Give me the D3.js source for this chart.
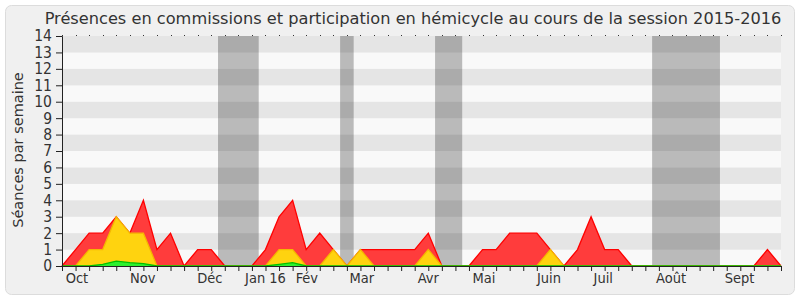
<!DOCTYPE html>
<html>
<head>
<meta charset="utf-8">
<script src="https://cdn.jsdelivr.net/npm/d3@7"></script>
<style>
  body { margin: 0; background: #fff; }
  text { font-family: "DejaVu Sans", Verdana, sans-serif; fill: #333; }
  .cond { font-family: "DejaVu Sans Condensed", "DejaVu Sans", sans-serif; font-stretch: condensed; }
</style>
</head>
<body>
<script>
const w = 800;
const h = 300;

// one value per week, session 2015-2016 (54 weeks)
const presence = [0,1,2,2,3,2,4,1,2,0,1,1,0,0,0,1,3,4,1,2,1,0,1,1,1,1,1,2,0,0,0,1,1,2,2,2,1,0,1,3,1,1,0,0,0,0,0,0,0,0,0,0,1,0];
const commission = [0,0,1,1,3,2,2,0,0,0,0,0,0,0,0,0,1,1,0,0,1,0,1,0,0,0,0,1,0,0,0,0,0,0,0,0,1,0,0,0,0,0,0,0,0,0,0,0,0,0,0,0,0,0];
const hemicycle = [0,0,0,0.1,0.3,0.2,0.15,0,0,0,0,0,0,0,0,0,0.1,0.2,0,0,0,0,0,0,0,0,0,0,0,0,0,0,0,0,0,0,0,0,0,0,0,0,0,0,0,0,0,0,0,0,0,0,0,0];
const vacances = [[12, 14], [21, 21], [28, 29], [44, 48]];
const moisLabels = ["Oct", "Nov", "Déc", "Jan 16", "Fév", "Mar", "Avr", "Mai", "Juin", "Juil", "Août", "Sept"];
const moisSemaines = [1.1, 5.95, 10.9, 15, 18.05, 22.1, 27, 31.1, 35.9, 39.9, 44.9, 49.95];
const yTicks = d3.range(0, 15);

const mLeft = 62, mRight = 781, mTop = 36, mBottom = 266;

let svg = d3.select("body")
            .append("svg")
                .attr("width", w)
                .attr("height", h);

// panel
svg.append("rect")
    .attr("x", 5.5).attr("y", 5.5)
    .attr("width", 789).attr("height", 289)
    .attr("rx", 6)
    .attr("fill", "#f0f0f0")
    .attr("stroke", "#dcdcdc");

let x = d3.scaleLinear()
    .domain([0, presence.length - 1])
    .range([mLeft, mRight]);

let y = d3.scaleLinear()
    .domain([0, 14])
    .range([mBottom, mTop]);

const step = x(1) - x(0);

// alternating bands
svg.selectAll("rect.band")
    .data(d3.range(0, 14))
    .enter()
    .append("rect")
    .attr("class", "band")
    .attr("x", mLeft)
    .attr("width", mRight - mLeft)
    .attr("y", d => y(d + 1))
    .attr("height", d => y(d) - y(d + 1))
    .attr("fill", d => d % 2 ? "#e5e5e5" : "#f9f9f9");

// holidays
svg.selectAll("rect.vac")
    .data(vacances)
    .enter()
    .append("rect")
    .attr("class", "vac")
    .attr("x", d => x(d[0]) - step / 2)
    .attr("width", d => x(d[1]) - x(d[0]) + step)
    .attr("y", mTop)
    .attr("height", mBottom - mTop)
    .attr("fill", "rgba(0,0,0,0.25)");

function drawArea(values, fill, stroke) {
    let area = d3.area()
        .x((d, i) => x(i))
        .y0(y(0))
        .y1(d => y(d));
    let line = d3.line()
        .x((d, i) => x(i))
        .y(d => y(d));
    svg.append("path")
        .datum(values)
        .attr("d", area)
        .attr("fill", fill);
    svg.append("path")
        .datum(values)
        .attr("d", line)
        .attr("fill", "none")
        .attr("stroke", stroke)
        .attr("stroke-width", 1.3);
}

drawArea(presence, "#ff3c3c", "#ff0000");
drawArea(commission, "#ffd30f", "#f5b800");
drawArea(hemicycle, "#2ef02e", "#00c000");

// top dotted ticks
svg.selectAll("rect.dot")
    .data(d3.range(0, presence.length))
    .enter()
    .append("rect")
    .attr("class", "dot")
    .attr("x", d => Math.round(x(d)))
    .attr("y", mTop - 1)
    .attr("width", 1)
    .attr("height", 1)
    .attr("fill", "#333");

// x axis
let xAxis = svg.append("g")
    .attr("transform", "translate(0," + mBottom + ")")
    .call(d3.axisBottom(x).tickValues(d3.range(0, presence.length)).tickSize(5).tickFormat(""));
xAxis.select(".domain").attr("stroke", "#222");
xAxis.selectAll(".tick line").attr("stroke", "#222");

svg.selectAll("text.mois")
    .data(moisLabels)
    .enter()
    .append("text")
    .attr("class", "mois cond")
    .attr("x", (d, i) => x(moisSemaines[i]))
    .attr("y", 283)
    .attr("text-anchor", "middle")
    .attr("font-size", 14.5)
    .text(d => d);

// y axis
let yAxis = svg.append("g")
    .attr("transform", "translate(" + mLeft + ",0)")
    .call(d3.axisLeft(y).tickValues(yTicks).tickSize(6).tickPadding(4).tickFormat(d3.format("d")));
yAxis.select(".domain").attr("stroke", "#222");
yAxis.selectAll(".tick line").attr("stroke", "#222");
yAxis.selectAll(".tick text")
    .attr("class", "cond")
    .attr("font-size", 15.5)
    .attr("font-family", null)
    .attr("fill", "#333");

svg.append("text")
    .attr("transform", "translate(23,150) rotate(-90)")
    .attr("text-anchor", "middle")
    .attr("font-size", 14.5)
    .text("Séances par semaine");

svg.append("text")
    .attr("x", 413)
    .attr("y", 24)
    .attr("text-anchor", "middle")
    .attr("font-size", 16.2)
    .text("Présences en commissions et participation en hémicycle au cours de la session 2015-2016");
</script>
</body>
</html>
